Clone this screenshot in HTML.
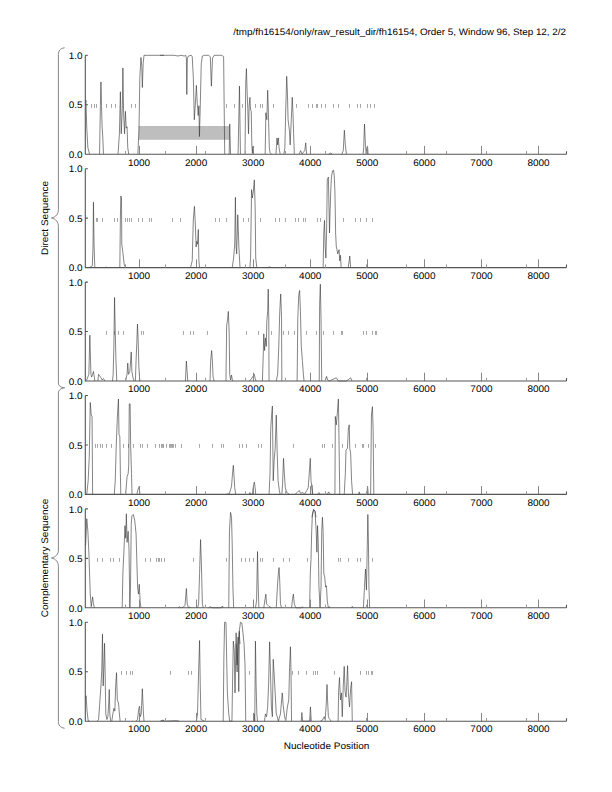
<!DOCTYPE html>
<html><head><meta charset="utf-8"><style>
html,body{margin:0;padding:0;background:#fff;width:612px;height:792px;overflow:hidden;position:relative}
svg text{font-family:"Liberation Sans",sans-serif;text-rendering:geometricPrecision}
</style></head><body>
<svg width="612" height="792" viewBox="0 0 612 792" style="position:absolute;left:0;top:0">
<rect width="612" height="792" fill="#fff"/>
<text transform="translate(566.00,34.90) scale(1,0.95)" text-anchor="end" font-size="9.85" fill="#000">/tmp/fh16154/only/raw_result_dir/fh16154, Order 5, Window 96, Step 12, 2/2</text>
<path d="M64.6,47.7 C60,48.5 58.4,51 58.4,54.5 L58.4,209.5 C58.4,214 56,217 51.5,218 C56,219 58.4,222 58.4,226.5 L58.4,383 C58.4,386 61,387.5 64.6,387.8 C61,388.1 58.4,390 58.4,393 L58.4,550 C58.4,554 56,557 51.5,558 C56,559 58.4,562 58.4,566.5 L58.4,721.5 C58.4,725 60,727.5 64.6,728.3" fill="none" stroke="#777" stroke-width="0.9"/>
<text transform="translate(48.20,218.00) rotate(-90) scale(1,0.95)" text-anchor="middle" font-size="10" fill="#000">Direct Sequence</text>
<text transform="translate(48.20,558.00) rotate(-90) scale(1,0.95)" text-anchor="middle" font-size="10" fill="#000">Complementary Sequence</text>
<text transform="translate(326.50,749.30) scale(1,0.95)" text-anchor="middle" font-size="10" fill="#000">Nucleotide Position</text>
<rect x="138.7" y="126" width="90.6" height="13.8" fill="#bebebe"/>
<text transform="translate(82.60,59.00) scale(1,0.95)" text-anchor="end" font-size="10" fill="#000">1.0</text>
<text transform="translate(82.60,108.45) scale(1,0.95)" text-anchor="end" font-size="10" fill="#000">0.5</text>
<text transform="translate(82.60,157.90) scale(1,0.95)" text-anchor="end" font-size="10" fill="#000">0.0</text>
<text transform="translate(139.02,166.10) scale(1,0.95)" text-anchor="middle" font-size="10" fill="#000">1000</text>
<text transform="translate(196.09,166.10) scale(1,0.95)" text-anchor="middle" font-size="10" fill="#000">2000</text>
<text transform="translate(253.16,166.10) scale(1,0.95)" text-anchor="middle" font-size="10" fill="#000">3000</text>
<text transform="translate(310.23,166.10) scale(1,0.95)" text-anchor="middle" font-size="10" fill="#000">4000</text>
<text transform="translate(367.30,166.10) scale(1,0.95)" text-anchor="middle" font-size="10" fill="#000">5000</text>
<text transform="translate(424.37,166.10) scale(1,0.95)" text-anchor="middle" font-size="10" fill="#000">6000</text>
<text transform="translate(481.44,166.10) scale(1,0.95)" text-anchor="middle" font-size="10" fill="#000">7000</text>
<text transform="translate(538.51,166.10) scale(1,0.95)" text-anchor="middle" font-size="10" fill="#000">8000</text>
<path d="M91.50,104.00v3.8 M94.50,104.00v3.8 M96.50,104.00v3.8 M106.50,104.00v3.8 M111.50,104.00v3.8 M115.50,104.00v3.8 M131.50,104.00v3.8 M135.50,104.00v3.8 M226.50,104.00v3.8 M234.50,104.00v3.8 M242.50,104.00v3.8 M255.50,104.00v3.8 M260.50,104.00v3.8 M262.50,104.00v3.8 M273.50,104.00v3.8 M296.50,104.00v3.8 M308.50,104.00v3.8 M312.50,104.00v3.8 M312.50,104.00v3.8 M316.50,104.00v3.8 M317.50,104.00v3.8 M321.50,104.00v3.8 M325.50,104.00v3.8 M333.50,104.00v3.8 M338.50,104.00v3.8 M349.50,104.00v3.8 M357.50,104.00v3.8 M360.50,104.00v3.8 M367.50,104.00v3.8 M370.50,104.00v3.8 M374.50,104.00v3.8" stroke="#a6a6a6" stroke-width="1" fill="none"/>
<path d="M85.39,102.93 L85.94,100.13 L86.78,128.14 L87.89,147.76 L89.56,154.06 M99.56,154.06 L100.39,105.73 L100.94,81.92 L101.50,105.73 L102.06,125.34 L102.89,139.35 L103.44,154.06 M118.03,154.06 L119.42,133.75 L120.39,91.72 L121.22,133.75 L122.33,108.53 L122.89,67.91 L123.58,112.73 L124.56,133.75 L125.39,111.33 L126.22,128.14 L127.06,126.74 L127.75,147.76 L128.72,154.06 M137.89,154.06 L139.00,128.14 L139.83,77.71 L140.94,57.40 L141.78,66.51 L142.33,87.52 L143.17,63.71 L144.00,55.30 L164.00,55.30 M160.00,55.30 L168.33,55.30 L173.89,55.30 L178.06,56.00 L180.83,55.30 L184.31,56.00 L185.69,55.30 L186.39,58.10 L186.81,94.52 L187.36,58.10 L188.47,56.00 L191.25,55.30 L192.22,56.70 L193.33,77.71 L194.31,119.74 L195.42,102.93 L196.39,85.42 L197.22,102.93 L198.19,115.54 L198.89,105.73 L199.44,136.55 L200.28,105.73 L201.25,63.71 L202.36,56.00 L204.44,55.30 L208.61,55.30 L210.28,56.70 L211.39,86.12 L212.50,58.10 L214.17,55.30 L218.33,55.30 L221.81,55.30 L223.61,56.70 L224.17,105.73 L224.72,154.06 M229.17,154.06 L229.72,123.94 L230.56,154.06 M238.08,154.06 L239.47,86.12 L240.44,154.06 M245.03,154.06 L245.72,83.32 L246.42,68.61 L247.11,91.72 L247.81,108.53 L248.50,133.75 L249.19,105.73 L249.89,97.33 L250.58,109.93 L251.28,111.33 L251.83,144.95 L252.39,153.36 L252.94,146.36 L253.50,154.06 M265.17,154.06 L265.86,112.73 L266.83,119.74 L267.67,90.32 L268.22,105.73 L268.64,122.54 L269.33,147.76 L270.03,152.66 L271.42,154.06 M276.00,154.06 L276.97,137.95 L277.67,144.95 L278.36,137.95 L279.06,147.76 L280.17,154.06 M283.92,154.06 L284.89,147.76 L285.72,109.93 L286.69,76.31 L287.39,91.72 L288.08,119.74 L289.47,130.95 L290.17,144.95 L291.28,119.74 L292.25,97.33 L292.94,112.73 L293.64,133.75 L294.33,154.06 M299.19,154.06 L300.58,150.56 L301.97,154.06 L304.75,150.56 L305.72,142.85 L306.56,154.06 M328.67,154.06 L330.75,153.08 L332.14,154.06 M341.86,154.06 L343.25,150.56 L344.36,130.25 L345.33,144.95 L346.44,154.06 M363.11,154.06 L363.67,147.76 L364.50,123.94 L365.19,140.75 L366.17,154.06 L366.86,147.76 L367.56,146.36 L368.11,154.06" stroke="#333" stroke-width="0.6" fill="none" stroke-linejoin="round"/>
<path d="M139.50,154.2 v-8.3 M196.50,154.2 v-8.3 M253.50,154.2 v-8.3 M310.50,154.2 v-8.3 M367.50,154.2 v-8.3 M424.50,154.2 v-8.3 M481.50,154.2 v-8.3 M538.50,154.2 v-8.3" stroke="#888" stroke-width="1" fill="none"/>
<path d="M85.3,55.3 H87.89999999999999 M85.3,104.75 H87.89999999999999 M85.3,55.3 V154.2 H566.5 M566.5,154.2 v-3" stroke="#555" stroke-width="1.1" fill="none"/>
<path d="M125.50,154.2 v-3.2 M165.50,154.2 v-3.2 M205.50,154.2 v-3.2 M245.50,154.2 v-3.2 M285.50,154.2 v-3.2 M325.50,154.2 v-3.2 M366.50,154.2 v-3.2 M406.50,154.2 v-3.2 M446.50,154.2 v-3.2 M486.50,154.2 v-3.2 M526.50,154.2 v-3.2" stroke="#999" stroke-width="1" fill="none"/>
<text transform="translate(82.60,172.40) scale(1,0.95)" text-anchor="end" font-size="10" fill="#000">1.0</text>
<text transform="translate(82.60,221.85) scale(1,0.95)" text-anchor="end" font-size="10" fill="#000">0.5</text>
<text transform="translate(82.60,271.30) scale(1,0.95)" text-anchor="end" font-size="10" fill="#000">0.0</text>
<text transform="translate(139.02,279.26) scale(1,0.95)" text-anchor="middle" font-size="10" fill="#000">1000</text>
<text transform="translate(196.09,279.26) scale(1,0.95)" text-anchor="middle" font-size="10" fill="#000">2000</text>
<text transform="translate(253.16,279.26) scale(1,0.95)" text-anchor="middle" font-size="10" fill="#000">3000</text>
<text transform="translate(310.23,279.26) scale(1,0.95)" text-anchor="middle" font-size="10" fill="#000">4000</text>
<text transform="translate(367.30,279.26) scale(1,0.95)" text-anchor="middle" font-size="10" fill="#000">5000</text>
<text transform="translate(424.37,279.26) scale(1,0.95)" text-anchor="middle" font-size="10" fill="#000">6000</text>
<text transform="translate(481.44,279.26) scale(1,0.95)" text-anchor="middle" font-size="10" fill="#000">7000</text>
<text transform="translate(538.51,279.26) scale(1,0.95)" text-anchor="middle" font-size="10" fill="#000">8000</text>
<path d="M96.50,218.00v3.8 M97.50,218.00v3.8 M102.50,218.00v3.8 M114.50,218.00v3.8 M117.50,218.00v3.8 M125.50,218.00v3.8 M127.50,218.00v3.8 M129.50,218.00v3.8 M131.50,218.00v3.8 M138.50,218.00v3.8 M142.50,218.00v3.8 M149.50,218.00v3.8 M151.50,218.00v3.8 M172.50,218.00v3.8 M180.50,218.00v3.8 M215.50,218.00v3.8 M219.50,218.00v3.8 M226.50,218.00v3.8 M243.50,218.00v3.8 M248.50,218.00v3.8 M260.50,218.00v3.8 M275.50,218.00v3.8 M279.50,218.00v3.8 M285.50,218.00v3.8 M295.50,218.00v3.8 M298.50,218.00v3.8 M303.50,218.00v3.8 M305.50,218.00v3.8 M317.50,218.00v3.8 M320.50,218.00v3.8 M343.50,218.00v3.8 M355.50,218.00v3.8 M360.50,218.00v3.8 M366.50,218.00v3.8 M372.50,218.00v3.8" stroke="#a6a6a6" stroke-width="1" fill="none"/>
<path d="M88.86,267.60 L90.94,266.76 L92.33,265.78 L93.03,246.93 L93.44,202.23 L94.00,241.34 L94.56,260.89 L94.83,267.60 M104.83,267.60 L106.22,267.18 L107.61,267.60 M119.83,267.60 L120.39,218.99 L120.81,195.94 L121.50,198.03 L121.78,244.13 L122.89,252.51 L124.28,265.09 L125.67,267.60 M190.56,267.60 L192.22,260.89 L193.33,218.99 L194.44,206.42 L195.42,225.97 L196.11,246.93 L196.81,241.34 L197.50,244.13 L198.33,229.46 L198.89,260.89 L199.58,267.60 M232.22,267.60 L233.61,258.10 L234.72,244.13 L235.42,197.34 L236.11,246.93 L236.67,253.91 L237.78,214.80 L238.89,246.93 L240.00,267.60 M249.89,267.60 L250.58,258.10 L251.56,189.65 L252.39,198.03 L253.36,191.05 L254.33,179.88 L255.17,207.81 L255.72,258.10 L256.83,267.60 M267.94,267.60 L269.61,266.76 L271.00,267.60 M323.11,267.60 L323.81,232.96 L324.50,220.39 L325.19,246.93 L325.89,258.10 L326.58,232.96 L327.28,179.88 L328.39,177.08 L328.94,205.02 L329.50,232.96 L330.06,212.00 L330.75,191.05 L331.44,177.08 L332.56,170.80 L333.53,170.10 L334.22,175.68 L334.92,191.05 L335.61,232.96 L336.31,246.93 L337.00,249.72 L337.69,253.91 L339.08,249.72 L339.78,260.89 L340.47,255.31 L341.17,267.60 M348.11,267.60 L349.22,260.89 L349.78,256.01 L350.61,267.60" stroke="#333" stroke-width="0.6" fill="none" stroke-linejoin="round"/>
<path d="M139.50,267.6 v-8.3 M196.50,267.6 v-8.3 M253.50,267.6 v-8.3 M310.50,267.6 v-8.3 M367.50,267.6 v-8.3 M424.50,267.6 v-8.3 M481.50,267.6 v-8.3 M538.50,267.6 v-8.3" stroke="#888" stroke-width="1" fill="none"/>
<path d="M85.3,168.7 H87.89999999999999 M85.3,218.15 H87.89999999999999 M85.3,168.7 V267.6 H566.5 M566.5,267.6 v-3" stroke="#555" stroke-width="1.1" fill="none"/>
<path d="M125.50,267.6 v-3.2 M165.50,267.6 v-3.2 M205.50,267.6 v-3.2 M245.50,267.6 v-3.2 M285.50,267.6 v-3.2 M325.50,267.6 v-3.2 M366.50,267.6 v-3.2 M406.50,267.6 v-3.2 M446.50,267.6 v-3.2 M486.50,267.6 v-3.2 M526.50,267.6 v-3.2" stroke="#999" stroke-width="1" fill="none"/>
<text transform="translate(82.60,285.80) scale(1,0.95)" text-anchor="end" font-size="10" fill="#000">1.0</text>
<text transform="translate(82.60,335.25) scale(1,0.95)" text-anchor="end" font-size="10" fill="#000">0.5</text>
<text transform="translate(82.60,384.70) scale(1,0.95)" text-anchor="end" font-size="10" fill="#000">0.0</text>
<text transform="translate(139.02,392.42) scale(1,0.95)" text-anchor="middle" font-size="10" fill="#000">1000</text>
<text transform="translate(196.09,392.42) scale(1,0.95)" text-anchor="middle" font-size="10" fill="#000">2000</text>
<text transform="translate(253.16,392.42) scale(1,0.95)" text-anchor="middle" font-size="10" fill="#000">3000</text>
<text transform="translate(310.23,392.42) scale(1,0.95)" text-anchor="middle" font-size="10" fill="#000">4000</text>
<text transform="translate(367.30,392.42) scale(1,0.95)" text-anchor="middle" font-size="10" fill="#000">5000</text>
<text transform="translate(424.37,392.42) scale(1,0.95)" text-anchor="middle" font-size="10" fill="#000">6000</text>
<text transform="translate(481.44,392.42) scale(1,0.95)" text-anchor="middle" font-size="10" fill="#000">7000</text>
<text transform="translate(538.51,392.42) scale(1,0.95)" text-anchor="middle" font-size="10" fill="#000">8000</text>
<path d="M106.50,331.00v3.8 M114.50,331.00v3.8 M118.50,331.00v3.8 M123.50,331.00v3.8 M141.50,331.00v3.8 M143.50,331.00v3.8 M183.50,331.00v3.8 M190.50,331.00v3.8 M193.50,331.00v3.8 M207.50,331.00v3.8 M246.50,331.00v3.8 M258.50,331.00v3.8 M271.50,331.00v3.8 M283.50,331.00v3.8 M288.50,331.00v3.8 M294.50,331.00v3.8 M306.50,331.00v3.8 M316.50,331.00v3.8 M323.50,331.00v3.8 M333.50,331.00v3.8 M341.50,331.00v3.8 M342.50,331.00v3.8 M363.50,331.00v3.8 M366.50,331.00v3.8 M372.50,331.00v3.8 M375.50,331.00v3.8 M376.50,331.00v3.8" stroke="#a6a6a6" stroke-width="1" fill="none"/>
<path d="M85.39,381.00 L86.78,379.88 L88.86,374.29 L89.83,335.18 L90.53,360.33 L90.94,374.29 L91.64,377.09 L92.61,374.29 L93.44,371.50 L94.14,375.69 L94.83,381.00 M97.89,381.00 L98.58,374.29 L99.56,375.69 L100.67,377.09 L102.06,379.88 L103.44,378.49 L104.83,381.00 M112.47,381.00 L113.17,374.29 L113.86,346.36 L114.56,297.47 L115.25,332.39 L115.94,360.33 L116.78,381.00 M125.67,381.00 L127.06,374.29 L127.75,363.12 L128.44,374.29 L129.83,371.50 L131.22,351.94 L131.92,371.50 L132.89,377.09 L134.00,381.00 M135.39,381.00 L136.08,360.33 L136.78,343.56 L137.47,324.01 L138.17,339.37 L138.86,367.31 L139.83,381.00 M185.42,381.00 L186.39,361.02 L187.08,371.50 L187.78,381.00 M210.00,381.00 L210.69,360.33 L211.67,350.55 L212.50,363.12 L213.06,377.09 L214.17,381.00 M225.97,381.00 L226.67,325.40 L227.36,321.21 L228.33,311.43 L229.17,332.39 L229.72,374.29 L230.56,379.88 L231.53,374.99 L232.50,381.00 M249.19,381.00 L251.28,379.18 L253.36,375.69 L254.33,374.29 L255.17,378.49 L256.14,381.00 M262.39,381.00 L263.08,360.33 L263.78,333.79 L264.61,350.55 L265.44,337.98 L266.28,346.36 L266.83,321.21 L267.67,311.43 L268.22,289.08 L268.78,318.42 L269.06,381.00 M276.28,381.00 L277.67,374.29 L278.78,346.36 L279.75,311.43 L280.72,293.97 L281.56,318.42 L281.83,381.00 M297.11,381.00 L297.81,318.42 L298.78,294.67 L299.61,290.48 L300.44,311.43 L301.28,346.36 L302.39,360.33 L303.36,374.29 L304.06,381.00 M319.22,381.00 L319.64,304.45 L320.33,284.20 L321.03,318.42 L321.72,381.00 M325.19,381.00 L326.58,376.39 L327.56,379.88 L329.36,381.00 L336.31,377.79 L338.39,381.00 L346.03,381.00 L348.11,379.88 L350.61,377.79 L352.00,381.00" stroke="#333" stroke-width="0.6" fill="none" stroke-linejoin="round"/>
<path d="M139.50,381.0 v-8.3 M196.50,381.0 v-8.3 M253.50,381.0 v-8.3 M310.50,381.0 v-8.3 M367.50,381.0 v-8.3 M424.50,381.0 v-8.3 M481.50,381.0 v-8.3 M538.50,381.0 v-8.3" stroke="#888" stroke-width="1" fill="none"/>
<path d="M85.3,282.1 H87.89999999999999 M85.3,331.55 H87.89999999999999 M85.3,282.1 V381.0 H566.5 M566.5,381.0 v-3" stroke="#555" stroke-width="1.1" fill="none"/>
<path d="M125.50,381.0 v-3.2 M165.50,381.0 v-3.2 M205.50,381.0 v-3.2 M245.50,381.0 v-3.2 M285.50,381.0 v-3.2 M325.50,381.0 v-3.2 M366.50,381.0 v-3.2 M406.50,381.0 v-3.2 M446.50,381.0 v-3.2 M486.50,381.0 v-3.2 M526.50,381.0 v-3.2" stroke="#999" stroke-width="1" fill="none"/>
<text transform="translate(82.60,399.20) scale(1,0.95)" text-anchor="end" font-size="10" fill="#000">1.0</text>
<text transform="translate(82.60,448.65) scale(1,0.95)" text-anchor="end" font-size="10" fill="#000">0.5</text>
<text transform="translate(82.60,498.10) scale(1,0.95)" text-anchor="end" font-size="10" fill="#000">0.0</text>
<text transform="translate(139.02,505.58) scale(1,0.95)" text-anchor="middle" font-size="10" fill="#000">1000</text>
<text transform="translate(196.09,505.58) scale(1,0.95)" text-anchor="middle" font-size="10" fill="#000">2000</text>
<text transform="translate(253.16,505.58) scale(1,0.95)" text-anchor="middle" font-size="10" fill="#000">3000</text>
<text transform="translate(310.23,505.58) scale(1,0.95)" text-anchor="middle" font-size="10" fill="#000">4000</text>
<text transform="translate(367.30,505.58) scale(1,0.95)" text-anchor="middle" font-size="10" fill="#000">5000</text>
<text transform="translate(424.37,505.58) scale(1,0.95)" text-anchor="middle" font-size="10" fill="#000">6000</text>
<text transform="translate(481.44,505.58) scale(1,0.95)" text-anchor="middle" font-size="10" fill="#000">7000</text>
<text transform="translate(538.51,505.58) scale(1,0.95)" text-anchor="middle" font-size="10" fill="#000">8000</text>
<path d="M95.50,444.00v3.8 M97.50,444.00v3.8 M100.50,444.00v3.8 M102.50,444.00v3.8 M106.50,444.00v3.8 M111.50,444.00v3.8 M123.50,444.00v3.8 M128.50,444.00v3.8 M133.50,444.00v3.8 M140.50,444.00v3.8 M142.50,444.00v3.8 M147.50,444.00v3.8 M155.50,444.00v3.8 M159.50,444.00v3.8 M161.50,444.00v3.8 M163.50,444.00v3.8 M162.50,444.00v3.8 M163.50,444.00v3.8 M166.50,444.00v3.8 M169.50,444.00v3.8 M170.50,444.00v3.8 M171.50,444.00v3.8 M172.50,444.00v3.8 M173.50,444.00v3.8 M175.50,444.00v3.8 M181.50,444.00v3.8 M181.50,444.00v3.8 M199.50,444.00v3.8 M212.50,444.00v3.8 M221.50,444.00v3.8 M223.50,444.00v3.8 M239.50,444.00v3.8 M239.50,444.00v3.8 M242.50,444.00v3.8 M246.50,444.00v3.8 M258.50,444.00v3.8 M261.50,444.00v3.8 M293.50,444.00v3.8 M322.50,444.00v3.8 M324.50,444.00v3.8 M332.50,444.00v3.8 M342.50,444.00v3.8 M355.50,444.00v3.8 M362.50,444.00v3.8 M363.50,444.00v3.8 M368.50,444.00v3.8 M375.50,444.00v3.8" stroke="#a6a6a6" stroke-width="1" fill="none"/>
<path d="M86.78,494.40 L88.17,480.71 L89.28,456.96 L90.25,402.48 L91.22,415.06 L92.06,416.45 L92.61,494.40 M114.28,494.40 L115.25,480.71 L116.22,445.79 L117.33,417.85 L118.44,398.99 L119.00,434.61 L119.83,436.01 L120.39,473.73 L120.81,494.40 M125.67,494.40 L127.06,476.52 L128.17,473.73 L128.72,465.34 L129.28,403.88 L130.11,403.88 L130.67,445.79 L131.50,473.73 L132.06,494.40 M136.78,494.40 L138.17,489.09 L139.28,486.30 L139.83,494.40 M225.97,494.40 L229.44,493.56 L231.53,486.30 L232.50,473.73 L233.33,465.34 L233.89,473.73 L234.72,487.69 L235.69,494.40 M249.19,494.40 L249.89,492.58 L251.00,494.40 L252.39,493.98 L253.36,486.30 L254.33,482.11 L255.17,487.69 L255.72,494.40 M269.06,494.40 L270.03,473.73 L270.72,429.03 L271.42,417.85 L272.39,405.98 L273.22,480.71 L274.19,459.76 L275.17,448.58 L276.28,415.06 L277.11,449.98 L278.08,480.71 L279.33,490.49 L280.17,494.40 M281.83,494.40 L282.53,484.90 L283.50,458.36 L284.33,473.73 L285.31,487.69 L286.69,492.58 L288.08,493.28 L289.47,494.40 M295.03,494.40 L297.11,492.58 L299.19,490.49 L300.58,493.28 L302.39,492.58 L304.75,493.98 L306.83,490.49 L308.22,487.69 L310.31,458.36 L311.00,480.71 L311.69,484.90 L312.39,494.40 M312.00,484.90 L312.69,494.40 M317.56,494.40 L318.94,492.58 L320.33,494.40 L327.28,494.40 L328.67,491.89 L330.06,494.40 M334.92,494.40 L335.33,416.45 L336.31,424.83 L337.28,413.66 L338.39,398.99 L339.08,445.79 L339.78,494.40 M344.22,494.40 L345.33,473.73 L346.03,449.98 L347.42,448.58 L348.39,429.03 L349.22,424.83 L349.78,448.58 L350.61,452.77 L351.58,480.71 L352.56,494.40 M358.53,494.40 L359.22,491.89 L359.92,494.40 L366.86,494.40 L367.56,486.30 L368.25,494.40 M370.61,494.40 L371.44,415.06 L372.42,406.68 L373.11,429.03 L373.81,494.40" stroke="#333" stroke-width="0.6" fill="none" stroke-linejoin="round"/>
<path d="M139.50,494.4000000000001 v-8.3 M196.50,494.4000000000001 v-8.3 M253.50,494.4000000000001 v-8.3 M310.50,494.4000000000001 v-8.3 M367.50,494.4000000000001 v-8.3 M424.50,494.4000000000001 v-8.3 M481.50,494.4000000000001 v-8.3 M538.50,494.4000000000001 v-8.3" stroke="#888" stroke-width="1" fill="none"/>
<path d="M85.3,395.50000000000006 H87.89999999999999 M85.3,444.95000000000005 H87.89999999999999 M85.3,395.50000000000006 V494.4000000000001 H566.5 M566.5,494.4000000000001 v-3" stroke="#555" stroke-width="1.1" fill="none"/>
<path d="M125.50,494.4000000000001 v-3.2 M165.50,494.4000000000001 v-3.2 M205.50,494.4000000000001 v-3.2 M245.50,494.4000000000001 v-3.2 M285.50,494.4000000000001 v-3.2 M325.50,494.4000000000001 v-3.2 M366.50,494.4000000000001 v-3.2 M406.50,494.4000000000001 v-3.2 M446.50,494.4000000000001 v-3.2 M486.50,494.4000000000001 v-3.2 M526.50,494.4000000000001 v-3.2" stroke="#999" stroke-width="1" fill="none"/>
<text transform="translate(82.60,512.60) scale(1,0.95)" text-anchor="end" font-size="10" fill="#000">1.0</text>
<text transform="translate(82.60,562.05) scale(1,0.95)" text-anchor="end" font-size="10" fill="#000">0.5</text>
<text transform="translate(82.60,611.50) scale(1,0.95)" text-anchor="end" font-size="10" fill="#000">0.0</text>
<text transform="translate(139.02,618.74) scale(1,0.95)" text-anchor="middle" font-size="10" fill="#000">1000</text>
<text transform="translate(196.09,618.74) scale(1,0.95)" text-anchor="middle" font-size="10" fill="#000">2000</text>
<text transform="translate(253.16,618.74) scale(1,0.95)" text-anchor="middle" font-size="10" fill="#000">3000</text>
<text transform="translate(310.23,618.74) scale(1,0.95)" text-anchor="middle" font-size="10" fill="#000">4000</text>
<text transform="translate(367.30,618.74) scale(1,0.95)" text-anchor="middle" font-size="10" fill="#000">5000</text>
<text transform="translate(424.37,618.74) scale(1,0.95)" text-anchor="middle" font-size="10" fill="#000">6000</text>
<text transform="translate(481.44,618.74) scale(1,0.95)" text-anchor="middle" font-size="10" fill="#000">7000</text>
<text transform="translate(538.51,618.74) scale(1,0.95)" text-anchor="middle" font-size="10" fill="#000">8000</text>
<path d="M97.50,558.00v3.8 M102.50,558.00v3.8 M110.50,558.00v3.8 M113.50,558.00v3.8 M119.50,558.00v3.8 M145.50,558.00v3.8 M150.50,558.00v3.8 M156.50,558.00v3.8 M158.50,558.00v3.8 M159.50,558.00v3.8 M161.50,558.00v3.8 M161.50,558.00v3.8 M164.50,558.00v3.8 M193.50,558.00v3.8 M226.50,558.00v3.8 M241.50,558.00v3.8 M245.50,558.00v3.8 M249.50,558.00v3.8 M253.50,558.00v3.8 M260.50,558.00v3.8 M262.50,558.00v3.8 M273.50,558.00v3.8 M283.50,558.00v3.8 M289.50,558.00v3.8 M307.50,558.00v3.8 M338.50,558.00v3.8 M340.50,558.00v3.8 M348.50,558.00v3.8 M357.50,558.00v3.8 M360.50,558.00v3.8 M372.50,558.00v3.8" stroke="#a6a6a6" stroke-width="1" fill="none"/>
<path d="M85.67,545.22 L86.78,518.68 L87.89,531.25 L88.86,552.20 L89.56,573.16 L90.25,594.11 L91.22,606.68 L92.61,596.90 L93.44,603.89 L94.42,607.80 M122.19,607.80 L122.89,573.16 L124.00,549.41 L124.97,525.66 L125.67,538.23 L126.36,513.79 L127.06,542.43 L128.17,531.25 L129.00,549.41 L129.83,607.80 L130.53,587.13 L131.22,524.27 L131.92,515.88 L133.31,514.49 L134.69,520.08 L136.08,534.04 L136.78,559.19 L137.61,587.13 L138.44,594.11 L139.28,584.33 L140.11,601.09 L140.94,607.80 M178.06,607.80 L179.44,606.68 L180.83,607.80 L183.61,606.96 L185.00,605.29 L186.39,588.52 L187.22,603.89 L188.47,607.80 L189.86,606.96 L190.83,607.80 M197.50,607.80 L198.61,603.89 L199.58,573.16 L200.56,539.63 L201.39,563.38 L202.36,603.89 L203.33,607.80 M208.61,607.80 L210.00,606.68 L212.08,607.80 L221.11,607.80 L222.50,605.98 L223.19,607.80 M228.75,607.80 L229.44,531.25 L230.56,512.39 L231.53,517.28 L232.22,545.22 L232.92,587.13 L233.61,607.80 M255.44,607.80 L256.56,601.09 L257.53,551.51 L258.22,587.13 L258.92,607.80 M263.78,607.80 L265.17,598.30 L265.86,594.11 L266.56,603.89 L267.94,605.29 L269.33,606.68 L271.42,607.80 M276.28,607.80 L277.39,587.13 L278.36,573.16 L279.06,567.57 L279.75,581.54 L280.44,603.89 L281.56,607.80 M291.56,607.80 L292.67,598.30 L293.36,594.11 L294.33,603.89 L295.72,607.80 L301.28,607.80 L302.39,606.68 L303.36,607.80 M309.61,607.80 L310.31,573.16 L311.00,559.19 L311.69,531.25 L312.39,514.49 L313.50,509.60 L315.17,511.69 L316.00,517.28 M312.00,517.28 L313.67,509.60 L315.06,511.00 L316.17,531.25 L316.86,552.20 L317.56,525.66 L318.25,542.43 L318.94,587.13 L320.06,607.80 L321.03,587.13 L321.72,531.25 L322.42,517.28 L323.11,531.25 L323.81,573.16 L324.78,577.35 L325.61,587.13 L326.44,585.73 L327.28,601.09 L328.39,607.80 L329.36,606.68 L330.06,607.80 M351.58,607.80 L352.28,606.40 L352.97,607.80 M363.39,607.80 L364.50,587.13 L365.47,568.97 L366.44,589.92 L367.28,545.22 L367.83,514.49 L368.39,538.23 L368.94,587.13 L369.64,607.80" stroke="#333" stroke-width="0.6" fill="none" stroke-linejoin="round"/>
<path d="M139.50,607.8000000000001 v-8.3 M196.50,607.8000000000001 v-8.3 M253.50,607.8000000000001 v-8.3 M310.50,607.8000000000001 v-8.3 M367.50,607.8000000000001 v-8.3 M424.50,607.8000000000001 v-8.3 M481.50,607.8000000000001 v-8.3 M538.50,607.8000000000001 v-8.3" stroke="#888" stroke-width="1" fill="none"/>
<path d="M85.3,508.90000000000003 H87.89999999999999 M85.3,558.35 H87.89999999999999 M85.3,508.90000000000003 V607.8000000000001 H566.5 M566.5,607.8000000000001 v-3" stroke="#555" stroke-width="1.1" fill="none"/>
<path d="M125.50,607.8000000000001 v-3.2 M165.50,607.8000000000001 v-3.2 M205.50,607.8000000000001 v-3.2 M245.50,607.8000000000001 v-3.2 M285.50,607.8000000000001 v-3.2 M325.50,607.8000000000001 v-3.2 M366.50,607.8000000000001 v-3.2 M406.50,607.8000000000001 v-3.2 M446.50,607.8000000000001 v-3.2 M486.50,607.8000000000001 v-3.2 M526.50,607.8000000000001 v-3.2" stroke="#999" stroke-width="1" fill="none"/>
<text transform="translate(82.60,626.00) scale(1,0.95)" text-anchor="end" font-size="10" fill="#000">1.0</text>
<text transform="translate(82.60,675.45) scale(1,0.95)" text-anchor="end" font-size="10" fill="#000">0.5</text>
<text transform="translate(82.60,724.90) scale(1,0.95)" text-anchor="end" font-size="10" fill="#000">0.0</text>
<text transform="translate(139.02,731.90) scale(1,0.95)" text-anchor="middle" font-size="10" fill="#000">1000</text>
<text transform="translate(196.09,731.90) scale(1,0.95)" text-anchor="middle" font-size="10" fill="#000">2000</text>
<text transform="translate(253.16,731.90) scale(1,0.95)" text-anchor="middle" font-size="10" fill="#000">3000</text>
<text transform="translate(310.23,731.90) scale(1,0.95)" text-anchor="middle" font-size="10" fill="#000">4000</text>
<text transform="translate(367.30,731.90) scale(1,0.95)" text-anchor="middle" font-size="10" fill="#000">5000</text>
<text transform="translate(424.37,731.90) scale(1,0.95)" text-anchor="middle" font-size="10" fill="#000">6000</text>
<text transform="translate(481.44,731.90) scale(1,0.95)" text-anchor="middle" font-size="10" fill="#000">7000</text>
<text transform="translate(538.51,731.90) scale(1,0.95)" text-anchor="middle" font-size="10" fill="#000">8000</text>
<path d="M121.50,671.00v3.8 M126.50,671.00v3.8 M130.50,671.00v3.8 M132.50,671.00v3.8 M170.50,671.00v3.8 M188.50,671.00v3.8 M191.50,671.00v3.8 M249.50,671.00v3.8 M292.50,671.00v3.8 M298.50,671.00v3.8 M306.50,671.00v3.8 M313.50,671.00v3.8 M315.50,671.00v3.8 M313.50,671.00v3.8 M315.50,671.00v3.8 M317.50,671.00v3.8 M334.50,671.00v3.8 M360.50,671.00v3.8 M366.50,671.00v3.8 M368.50,671.00v3.8 M371.50,671.00v3.8 M372.50,671.00v3.8" stroke="#a6a6a6" stroke-width="1" fill="none"/>
<path d="M85.39,699.94 L86.08,695.74 L87.06,711.13 L88.17,720.64 L89.56,721.20 M97.19,721.20 L98.58,719.52 L99.97,699.94 L100.94,685.95 L101.78,670.56 L102.47,634.19 L103.17,685.95 L103.86,667.76 L104.56,643.28 L105.11,671.96 L105.81,713.93 L106.92,719.52 L107.89,716.72 L108.72,702.73 L109.28,689.45 L109.83,713.93 L110.67,721.20 M111.78,721.20 L112.89,713.93 L113.86,708.33 L114.83,711.13 L115.67,685.95 L116.50,672.66 L117.33,699.94 L118.44,702.73 L119.42,713.93 L120.11,721.20 M136.08,721.20 L137.47,719.52 L138.86,708.33 L139.56,706.23 L140.25,716.72 L141.22,713.93 L142.33,688.75 L143.44,713.93 L144.00,721.20 M161.78,721.20 L163.17,720.22 L164.00,720.64 M160.00,721.20 L162.78,720.22 L164.17,721.20 L176.67,720.64 L179.44,721.20 M196.39,721.20 L197.50,713.93 L198.61,671.96 L199.58,640.49 L200.28,685.95 L200.97,719.52 L202.36,720.22 L204.44,721.20 M223.19,721.20 L223.89,657.97 L224.58,622.30 L225.97,622.30 L226.67,657.97 L227.36,692.94 L228.75,713.93 L229.72,721.20 L231.94,721.20 L232.50,685.95 L233.33,641.18 L234.31,650.98 L235.00,692.94 L236.11,632.79 L237.08,664.97 L238.06,643.98 L239.17,631.39 L240.00,643.98 M236.00,643.98 L237.11,671.96 L238.08,636.99 L238.78,691.54 L239.47,629.99 L240.44,622.30 L241.83,623.00 L242.94,632.79 L244.06,643.98 L245.03,664.97 L245.72,720.64 L246.42,721.20 M253.36,721.20 L254.06,713.93 L254.75,721.20 L255.44,641.18 L256.14,685.95 L256.83,713.93 L257.53,721.20 M264.47,721.20 L265.44,713.93 L266.56,716.72 L267.67,706.93 L268.64,683.15 L269.61,641.88 L270.44,671.96 L271.42,706.93 L272.39,716.72 L273.22,659.37 L274.19,674.76 L275.17,692.94 L276.28,713.93 L277.25,716.72 L278.36,721.20 L280.44,713.93 L282.25,692.94 L283.22,705.53 L284.61,716.72 L285.72,721.20 L287.39,706.93 L288.78,699.94 L289.47,671.96 L290.44,646.78 L291.00,671.96 L291.56,721.20 M301.28,721.20 L301.83,712.53 L302.67,721.20 L309.61,721.20 L310.44,706.93 L311.28,721.20 M320.33,721.20 L322.42,720.22 L324.22,716.72 L325.19,719.52 L326.17,705.53 L327.00,684.55 L327.56,699.94 L328.39,716.72 L329.36,718.82 L330.06,719.52 L331.17,721.20 M338.11,721.20 L338.67,690.15 L339.50,677.56 L340.47,699.94 L341.44,692.94 L342.28,716.72 L343.25,685.95 L344.22,666.36 L345.06,691.54 L346.03,697.14 L346.72,685.95 L347.56,665.66 L348.39,692.94 L349.50,706.93 L350.61,688.75 L351.58,681.75 L352.28,721.20" stroke="#333" stroke-width="0.6" fill="none" stroke-linejoin="round"/>
<path d="M139.50,721.1999999999999 v-8.3 M196.50,721.1999999999999 v-8.3 M253.50,721.1999999999999 v-8.3 M310.50,721.1999999999999 v-8.3 M367.50,721.1999999999999 v-8.3 M424.50,721.1999999999999 v-8.3 M481.50,721.1999999999999 v-8.3 M538.50,721.1999999999999 v-8.3" stroke="#888" stroke-width="1" fill="none"/>
<path d="M85.3,622.3 H87.89999999999999 M85.3,671.75 H87.89999999999999 M85.3,622.3 V721.1999999999999 H566.5 M566.5,721.1999999999999 v-3" stroke="#555" stroke-width="1.1" fill="none"/>
<path d="M125.50,721.1999999999999 v-3.2 M165.50,721.1999999999999 v-3.2 M205.50,721.1999999999999 v-3.2 M245.50,721.1999999999999 v-3.2 M285.50,721.1999999999999 v-3.2 M325.50,721.1999999999999 v-3.2 M366.50,721.1999999999999 v-3.2 M406.50,721.1999999999999 v-3.2 M446.50,721.1999999999999 v-3.2 M486.50,721.1999999999999 v-3.2 M526.50,721.1999999999999 v-3.2" stroke="#999" stroke-width="1" fill="none"/>
</svg>
</body></html>
